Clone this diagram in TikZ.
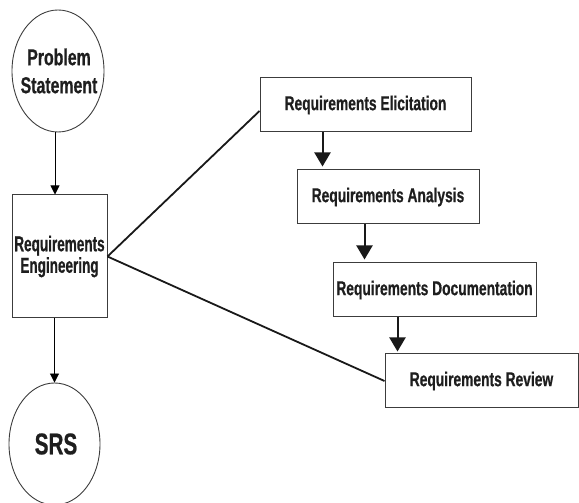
\documentclass[tikz,border=0pt]{standalone}
\usepackage{fontspec}
\newfontfamily\nar[FakeStretch=0.69,FakeBold=0.6]{Liberation Sans}
\newfontfamily\narr[FakeStretch=0.63,FakeBold=0.6]{Liberation Sans}
\usetikzlibrary{shapes.geometric,arrows.meta}
\definecolor{txt}{HTML}{1E1E1E}
\definecolor{brd}{HTML}{3C3C3C}
\tikzset{
  x=1pt,y=1pt,
  lbl/.style={font=\nar\bfseries, text=txt, align=center, inner sep=0pt},
  rbox/.style={draw=brd, line width=1pt, rectangle, inner sep=0pt, minimum height=54pt,
    font=\nar\bfseries\fontsize{20}{22}\selectfont, text=txt},
  oval/.style={draw=brd, line width=0.9pt, ellipse, inner sep=0pt},
  smallarrow/.style={draw=black, line width=0.9pt, -{Triangle[width=9pt,length=9pt]}},
  bigarrow/.style={draw=black!90, line width=2pt, -{Triangle[width=16pt,length=14pt]}},
  link/.style={draw=black!90, line width=1.8pt},
}
\begin{document}
\begin{tikzpicture}
\useasboundingbox (0,0) rectangle (579,503);
% left column
\node[oval, minimum width=92pt, minimum height=122pt] (ps) at (58,432) {};
\node[lbl, font=\nar\bfseries\fontsize{23}{28}\selectfont] (pst) at ([xshift=1pt]ps.center) {Problem\\Statement};
\node[rbox, minimum width=95pt, minimum height=123pt, align=center, font=\narr\bfseries\fontsize{21.5}{21.5}\selectfont] (re) at (59.5,246.5) {Requirements\\Engineering};
\node[oval, minimum width=91pt, minimum height=122pt] (srs) at (54.5,59) {};
\node[lbl, font=\nar\bfseries\fontsize{30}{34}\selectfont] (srst) at ([xshift=1.5pt]srs.center) {SRS};
% right column
\node[rbox, minimum width=211pt] (elic) at (365.5,398) {Requirements Elicitation};
\node[rbox, minimum width=182pt] (anal) at (388,306) {Requirements Analysis};
\node[rbox, minimum width=203pt] (doc) at (434.5,213) {Requirements Documentation};
\node[rbox, minimum width=193pt] (rev) at (481.5,122) {Requirements Review};
% connectors
\draw[smallarrow] ([xshift=-3pt]ps.south) -- ([xshift=-3pt]ps.south |- re.north);
\draw[smallarrow] (re.south -| srs.north) -- (srs.north);
\draw[link] (re.east) -- ([yshift=-6pt]elic.west);
\draw[link] (re.east) -- (rev.west);
\draw[bigarrow] ([xshift=26pt]anal.north west |- elic.south) -- ([xshift=26pt,yshift=3pt]anal.north west);
\draw[bigarrow] ([xshift=32pt]doc.north west |- anal.south) -- ([xshift=32pt,yshift=3pt]doc.north west);
\draw[bigarrow] ([xshift=13pt]rev.north west |- doc.south) -- ([xshift=13pt,yshift=2pt]rev.north west);
\end{tikzpicture}
\end{document}
